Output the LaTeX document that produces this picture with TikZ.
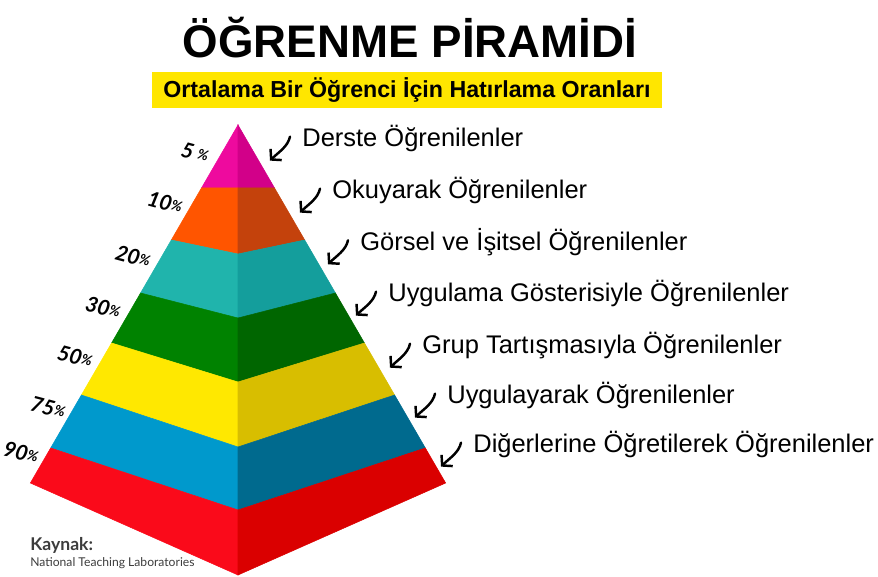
\documentclass[tikz,border=0pt]{standalone}
\usepackage{fontspec}
\setmainfont{Liberation Sans}
\newfontfamily\srcfont{Lato}
\usetikzlibrary{arrows.meta,positioning,calc}

\definecolor{magL}{HTML}{EE0A9E}
\definecolor{magR}{HTML}{D20089}
\definecolor{orgL}{HTML}{FF5500}
\definecolor{orgR}{HTML}{C4420C}
\definecolor{teaL}{HTML}{20B4AC}
\definecolor{teaR}{HTML}{149E9C}
\definecolor{grnL}{HTML}{008200}
\definecolor{grnR}{HTML}{006600}
\definecolor{yelL}{HTML}{FFE800}
\definecolor{yelR}{HTML}{D8BE00}
\definecolor{bluL}{HTML}{0099CC}
\definecolor{bluR}{HTML}{006A8E}
\definecolor{redL}{HTML}{FA0A1A}
\definecolor{redR}{HTML}{DA0000}
\definecolor{banner}{HTML}{FFE600}
\definecolor{srcgray}{HTML}{3C3C3C}

\newcommand{\pc}{\raisebox{0.25ex}{\fontsize{8}{9}\selectfont\%}}

\begin{document}
\begin{tikzpicture}[x=0.02cm,y=-0.02cm,
  lbl/.style={anchor=mid west,inner sep=0pt,font=\fontsize{14.5}{17}\selectfont},
  pct/.style={rotate=-15,inner sep=0pt,font=\srcfont\fontsize{12}{14}\selectfont\bfseries\itshape},
  pointer/.style={-{Straight Barb[length=4pt,width=9pt]},line width=1.4pt,line cap=round},
  ttl/.style={font=\fontsize{26}{30}\selectfont\bfseries,inner sep=0pt},
  sub/.style={fill=banner,minimum width=10.2cm,minimum height=0.72cm,inner sep=0pt,
    font=\fontsize{13.2}{16}\selectfont\bfseries},
  src/.style={inner sep=0pt,text=srcgray}]

  \useasboundingbox (0,0) rectangle (878,577);

  % heading
  \node[ttl] (title) at (410,38) {ÖĞRENME PİRAMİDİ};
  \node[sub] (subtitle) at (407,90) {Ortalama Bir Öğrenci İçin Hatırlama Oranları};

  % pyramid corners: L = left edge, F = front edge, R = right edge
  \foreach \i/\e/\f in {0/125/125,1/188/188,2/240/254,3/293/318,4/343/382,5/395/447,6/448/510,7/483/575}{
    \coordinate (L\i) at ({238-0.58*(\e-125)},\e);
    \coordinate (F\i) at (238,\f);
    \coordinate (R\i) at ({238+0.58*(\e-125)},\e);
  }

  % layers (left face lighter, right face darker)
  \foreach \i/\j/\cl/\cr in {0/1/magL/magR,1/2/orgL/orgR,2/3/teaL/teaR,3/4/grnL/grnR,4/5/yelL/yelR,5/6/bluL/bluR,6/7/redL/redR}{
    \filldraw[fill=\cl,draw=\cl,line width=0.3pt] (L\i) -- (F\i) -- (F\j) -- (L\j) -- cycle;
    \filldraw[fill=\cr,draw=\cr,line width=0.3pt] (R\i) -- (F\i) -- (F\j) -- (R\j) -- cycle;
  }

  % percentages
  \foreach \v/\x/\y [count=\n] in {{5\kern2.5pt}/195/153,10/165/203,20/133/257,30/103/308,50/75/357,75/48/408,90/21/453}{
    \node[pct] (p\n) at (\x,\y) {\v\pc};
  }

  % labels with pointers
  \foreach \t/\x/\y [count=\n] in {Derste Öğrenilenler/302/142,
      Okuyarak Öğrenilenler/332/194,
      Görsel ve İşitsel Öğrenilenler/360/246,
      Uygulama Gösterisiyle Öğrenilenler/388/297,
      Grup Tartışmasıyla Öğrenilenler/422/349,
      Uygulayarak Öğrenilenler/447/399,
      Diğerlerine Öğretilerek Öğrenilenler/473/448}{
    \node[lbl] (s\n) at (\x,\y) {\t};
    \coordinate (tip\n) at ($(s\n.west)+(-32,22)$);
    \draw[pointer] ($(s\n.west)+(-12,-2)$) .. controls +(-2,10) and +(8,-8) .. (tip\n);
  }

  % source
  \node[src,anchor=base west,font=\srcfont\fontsize{10}{11}\selectfont\bfseries] (kaynak) at (30,550) {Kaynak:};
  \node[src,anchor=base west,font=\srcfont\fontsize{6.9}{8}\selectfont] (lab) at (30,566) {National Teaching Laboratories};
\end{tikzpicture}
\end{document}
